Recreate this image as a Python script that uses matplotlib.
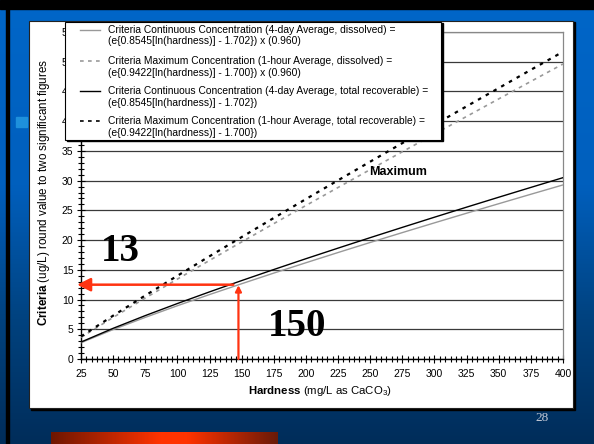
import numpy as np
import matplotlib
matplotlib.use('Agg')
import matplotlib.pyplot as plt
from matplotlib.patches import Rectangle
from matplotlib.lines import Line2D
from matplotlib.ticker import MultipleLocator, AutoMinorLocator
from matplotlib.colors import LinearSegmentedColormap

plt.rcParams['font.family'] = ['Liberation Sans', 'DejaVu Sans']
plt.rcParams['mathtext.fontset'] = 'custom'
plt.rcParams['mathtext.rm'] = 'Liberation Sans'
plt.rcParams['mathtext.it'] = 'Liberation Sans:italic'
plt.rcParams['mathtext.bf'] = 'Liberation Sans:bold'

# ---------------- data ----------------
hardness = [25, 50, 75, 100, 125, 150, 175, 200, 225, 250, 275, 300, 325, 350, 375, 400]
ccc_dissolved = [2.74, 4.95, 7.00, 8.96, 10.84, 12.66, 14.45, 16.19, 17.91, 19.60,
                 21.26, 22.90, 24.52, 26.12, 27.71, 29.28]
cmc_dissolved = [3.64, 6.99, 10.25, 13.44, 16.58, 19.69, 22.77, 25.82, 28.85, 31.86,
                 34.86, 37.84, 40.80, 43.75, 46.69, 49.62]
ccc_total = [2.85, 5.16, 7.30, 9.33, 11.29, 13.19, 15.05, 16.87, 18.65, 20.41,
             22.14, 23.85, 25.54, 27.21, 28.86, 30.50]
cmc_total = [3.79, 7.29, 10.68, 14.00, 17.28, 20.51, 23.72, 26.90, 30.06, 33.19,
             36.31, 39.41, 42.50, 45.57, 48.64, 51.68]

legend_lines = [
    ("Criteria Continuous Concentration (4-day Average, dissolved) =",
     "(e{0.8545[ln(hardness)] - 1.702}) x (0.960)"),
    ("Criteria Maximum Concentration (1-hour Average, dissolved) =",
     "(e{0.9422[ln(hardness)] - 1.700}) x (0.960)"),
    ("Criteria Continuous Concentration (4-day Average, total recoverable) =",
     "(e{0.8545[ln(hardness)] - 1.702})"),
    ("Criteria Maximum Concentration (1-hour Average, total recoverable) =",
     "(e{0.9422[ln(hardness)] - 1.700})"),
]
y_ticks = list(range(0, 60, 5))
x_ticks = list(range(25, 425, 25))

example_hardness = 147.5
example_value = 12.5
label_13 = ("13", 56, 18.0)
label_150 = ("150", 193, 5.4)
label_max = ("Maximum", 272, 31.5)
page_number = "28"

# ---------------- figure ----------------
W, H = 594, 444
fig = plt.figure(figsize=(W / 100, H / 100), dpi=100)

# background slide (pixel coordinates)
bg = fig.add_axes([0, 0, 1, 1], zorder=-5)
bg.set_xlim(0, W)
bg.set_ylim(H, 0)
bg.axis('off')
ys = np.linspace(0, 1, 200)
stops = [(0.0, '#0066c8'), (0.42, '#005fbd'), (0.72, '#00427f'), (1.0, '#002d5a')]
cmap = LinearSegmentedColormap.from_list('slide', stops)
bg.imshow(ys[:, None], cmap=cmap, aspect='auto', extent=(0, W, H, 0), zorder=0)
bg.add_patch(Rectangle((0, 0), W, 9, color='black', zorder=1))
bg.add_patch(Rectangle((6, 0), 2.5, H, color='black', zorder=1))
bg.add_patch(Rectangle((16, 117), 11, 10, color='#1e90dc', zorder=1))
# orange bar
xs = np.linspace(0, 1, 300)
ocmap = LinearSegmentedColormap.from_list('bar', [(0, '#6e1600'), (0.48, '#ff3300'),
                                                  (0.6, '#ff3300'), (1.0, '#6a1a08')])
bg.imshow(xs[None, :], cmap=ocmap, aspect='auto', extent=(51, 278, 444, 432), zorder=1)
# white panel with shadow
bg.add_patch(Rectangle((30.5, 22.5), 544, 387, color='black', zorder=2))
bg.add_patch(Rectangle((29, 21), 544, 387, facecolor='white', edgecolor='#222222',
                       lw=0.8, zorder=3))
bg.text(542, 418, page_number, color='#c5cad6', fontsize=9.5, family='Liberation Serif',
        ha='center', va='center', zorder=4)

# main axes
ax = fig.add_axes([81 / W, 1 - 359 / H, 482 / W, 327 / H], zorder=1)
ax.set_facecolor('white')
ax.set_xlim(25, 400)
ax.set_ylim(0, 55)
ax.plot(hardness, ccc_dissolved, color='#999999', lw=1.0, zorder=3)
ax.plot(hardness, cmc_dissolved, color='#999999', lw=1.2, ls=(0, (2.2, 2.6)), zorder=3)
ax.plot(hardness, ccc_total, color='black', lw=1.0, zorder=4)
ax.plot(hardness, cmc_total, color='black', lw=1.6, ls=(0, (1.6, 2.4)), zorder=4)

ax.set_yticks(y_ticks)
ax.set_xticks(x_ticks)
ax.yaxis.set_minor_locator(MultipleLocator(1))
ax.xaxis.set_minor_locator(AutoMinorLocator(6))
ax.tick_params(axis='both', which='both', direction='inout', color='black', width=0.8)
ax.tick_params(axis='both', which='major', length=6, labelsize=7.5)
ax.tick_params(axis='both', which='minor', length=4.5)
ax.tick_params(axis='y', which='major', pad=2.5)
ax.tick_params(axis='x', which='major', pad=4.5)
ax.grid(axis='y', which='major', color='#3a3a3a', lw=0.9, zorder=1)
ax.set_axisbelow(True)
for s in ['top', 'right']:
    ax.spines[s].set_color('#888888')
    ax.spines[s].set_linewidth(0.9)
for s in ['left', 'bottom']:
    ax.spines[s].set_color('black')
    ax.spines[s].set_linewidth(1.0)

ax.text(-0.077, 0.51, r"$\mathbf{Criteria}$ (ug/L) round value to two significant figures",
        transform=ax.transAxes, rotation=90, ha='center', va='center', fontsize=8.4)
ax.text(0.495, -0.098, r"$\mathbf{Hardness}$ (mg/L as CaCO$_3$)",
        transform=ax.transAxes, ha='center', va='center', fontsize=8.2)

ax.text(label_max[1], label_max[2], label_max[0], fontsize=9, fontweight='bold',
        ha='center', va='center', zorder=5)
ax.text(label_13[1], label_13[2], label_13[0], fontsize=28, fontweight='bold',
        family='Liberation Serif', ha='center', va='center', zorder=5)
ax.text(label_150[1], label_150[2], label_150[0], fontsize=28, fontweight='bold',
        family='Liberation Serif', ha='center', va='center', zorder=5)

red = '#ff3311'
ax.annotate('', xy=(example_hardness, example_value - 0.1), xytext=(example_hardness, 0),
            arrowprops=dict(arrowstyle='-|>,head_length=0.35,head_width=0.18', color=red,
                            lw=1.6, shrinkA=0, shrinkB=0), annotation_clip=False, zorder=6)
ax.annotate('', xy=(22, example_value), xytext=(example_hardness - 4, example_value),
            arrowprops=dict(arrowstyle='-|>,head_length=0.8,head_width=0.4', color=red,
                            lw=1.8, shrinkA=0, shrinkB=0), annotation_clip=False, zorder=6)

# legend box (pixel coordinates), above main axes
lg = fig.add_axes([0, 0, 1, 1], zorder=3)
lg.set_xlim(0, W)
lg.set_ylim(H, 0)
lg.axis('off')
lg.patch.set_alpha(0)
lg.add_patch(Rectangle((66.5, 23.5), 376, 118, color='black', zorder=1))
lg.add_patch(Rectangle((65, 22), 376, 118, facecolor='white', edgecolor='black',
                       lw=0.8, zorder=2))
styles = [dict(color='#999999', lw=1.0, ls='-'),
          dict(color='#999999', lw=1.2, ls=(0, (2.2, 2.6))),
          dict(color='black', lw=1.0, ls='-'),
          dict(color='black', lw=1.2, ls=(0, (2.2, 2.6)))]
first_y = [30, 61, 91, 121]
for (l1, l2), st, y0 in zip(legend_lines, styles, first_y):
    lg.add_line(Line2D([80, 100], [y0, y0], zorder=3, **st))
    lg.text(108, y0, l1, fontsize=7.35, ha='left', va='center', zorder=3)
    lg.text(108, y0 + 11.5, l2, fontsize=7.35, ha='left', va='center', zorder=3)

fig.savefig('out.png', dpi=100)
